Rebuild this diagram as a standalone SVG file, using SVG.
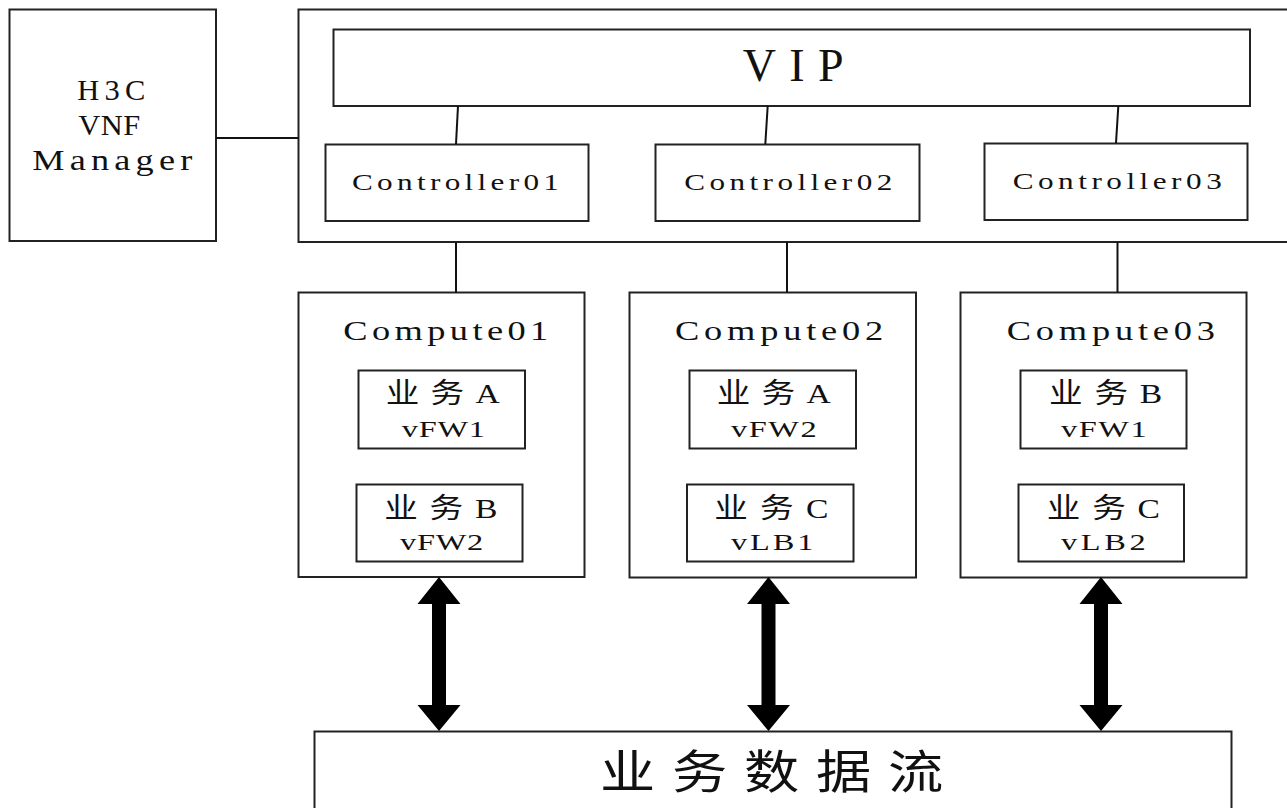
<svg xmlns="http://www.w3.org/2000/svg" xmlns:xlink="http://www.w3.org/1999/xlink" width="1287" height="808" viewBox="0 0 1287 808">
<style>
.box{fill:#fff;stroke:#222;stroke-width:2}
.ln{stroke:#111;stroke-width:2;fill:none}
.t{font-family:"Liberation Serif","Noto Sans CJK SC",serif;fill:#111}
.cjk{font-family:"Liberation Serif","Noto Sans CJK SC",sans-serif;fill:#111}
.arr{fill:#000;stroke:none}
</style>
<defs>
<path id="dblarrow" d="M0,0 L21.5,27 L7,27 L7,128 L21.5,128 L0,154 L-21.5,128 L-7,128 L-7,27 L-21.5,27 Z"/>
</defs>
<rect width="1287" height="808" fill="#fff"/>

<g id="manager">
<rect class="box" x="9.5" y="9.5" width="206.5" height="231.5"/>
<text class="t" font-size="29" transform="translate(77.3,100) scale(1.05,1)" textLength="64.8" lengthAdjust="spacing">H3C</text>
<text class="t" font-size="29" transform="translate(78.3,135) scale(1.05,1)" textLength="59" lengthAdjust="spacing">VNF</text>
<text class="t" font-size="29" transform="translate(32.3,170) scale(1.25,1)" textLength="128" lengthAdjust="spacing">Manager</text>
</g>

<g id="controller-cluster">
<rect class="box" x="298.5" y="9.5" width="1000" height="232.5"/>
</g>

<g id="vip">
<rect class="box" x="333.5" y="29.5" width="916.5" height="76.5"/>
<text class="t" font-size="46" x="742.7" y="81" textLength="101" lengthAdjust="spacing">VIP</text>
</g>

<g id="controller01">
<rect class="box" x="325.5" y="144.5" width="263" height="76.5"/>
<text class="t" font-size="24" transform="translate(352,190) scale(1.3,1)" textLength="159.2" lengthAdjust="spacing">Controller01</text>
</g>
<g id="controller02">
<rect class="box" x="655.5" y="144.5" width="264" height="76.5"/>
<text class="t" font-size="24" transform="translate(684.3,190) scale(1.3,1)" textLength="160" lengthAdjust="spacing">Controller02</text>
</g>
<g id="controller03">
<rect class="box" x="984.5" y="143.5" width="263" height="76.5"/>
<text class="t" font-size="24" transform="translate(1012.7,189) scale(1.3,1)" textLength="160.8" lengthAdjust="spacing">Controller03</text>
</g>

<g id="compute01">
<rect class="box" x="298.5" y="292.5" width="286" height="284.5"/>
<text class="t" font-size="28" transform="translate(343.3,339.5) scale(1.3,1)" textLength="157.7" lengthAdjust="spacing">Compute01</text>
<rect class="box" x="358.5" y="370.5" width="166.5" height="78"/>
<text class="cjk" font-size="28" transform="translate(385.7,403) scale(1.2,1)" textLength="95" lengthAdjust="spacing">业务A</text>
<text class="t" font-size="24" transform="translate(401.7,436.7) scale(1.35,1)" textLength="61.7" lengthAdjust="spacing">vFW1</text>
<rect class="box" x="356.5" y="484.5" width="166" height="77"/>
<text class="cjk" font-size="28" transform="translate(384.3,517.5) scale(1.2,1)" textLength="94.2" lengthAdjust="spacing">业务B</text>
<text class="t" font-size="24" transform="translate(400,550) scale(1.35,1)" textLength="61.7" lengthAdjust="spacing">vFW2</text>
</g>

<g id="compute02">
<rect class="box" x="629.5" y="292.5" width="286.5" height="285"/>
<text class="t" font-size="28" transform="translate(675,339.5) scale(1.3,1)" textLength="160.2" lengthAdjust="spacing">Compute02</text>
<rect class="box" x="689.5" y="370.5" width="166.5" height="78"/>
<text class="cjk" font-size="28" transform="translate(716.7,403) scale(1.2,1)" textLength="95" lengthAdjust="spacing">业务A</text>
<text class="t" font-size="24" transform="translate(731,436.7) scale(1.35,1)" textLength="63.5" lengthAdjust="spacing">vFW2</text>
<rect class="box" x="687" y="484.5" width="166.5" height="77"/>
<text class="cjk" font-size="28" transform="translate(714.3,517.5) scale(1.2,1)" textLength="95" lengthAdjust="spacing">业务C</text>
<text class="t" font-size="24" transform="translate(731,550) scale(1.35,1)" textLength="61" lengthAdjust="spacing">vLB1</text>
</g>

<g id="compute03">
<rect class="box" x="960.5" y="292.5" width="286" height="285"/>
<text class="t" font-size="28" transform="translate(1006.7,339.5) scale(1.3,1)" textLength="160.2" lengthAdjust="spacing">Compute03</text>
<rect class="box" x="1020.5" y="370.5" width="166" height="78"/>
<text class="cjk" font-size="28" transform="translate(1049,403) scale(1.2,1)" textLength="94.4" lengthAdjust="spacing">业务B</text>
<text class="t" font-size="24" transform="translate(1061,436.7) scale(1.35,1)" textLength="63.5" lengthAdjust="spacing">vFW1</text>
<rect class="box" x="1018.5" y="484.5" width="165.5" height="77"/>
<text class="cjk" font-size="28" transform="translate(1046.7,517.5) scale(1.2,1)" textLength="94.4" lengthAdjust="spacing">业务C</text>
<text class="t" font-size="24" transform="translate(1061,550) scale(1.35,1)" textLength="62.7" lengthAdjust="spacing">vLB2</text>
</g>

<g id="dataflow">
<rect class="box" x="314.5" y="731.5" width="917" height="100"/>
<text class="cjk" font-size="46" transform="translate(600,788) scale(1.2,1)" textLength="286" lengthAdjust="spacing">业务数据流</text>
</g>

<g id="connectors">
<line class="ln" x1="216" y1="138" x2="298.5" y2="138"/>
<line class="ln" x1="458" y1="106" x2="456" y2="144"/>
<line class="ln" x1="767.7" y1="106" x2="765.3" y2="144"/>
<line class="ln" x1="1118.3" y1="106" x2="1116" y2="143"/>
<line class="ln" x1="456" y1="242" x2="456" y2="292.5"/>
<line class="ln" x1="787" y1="242" x2="787" y2="292.5"/>
<line class="ln" x1="1117.5" y1="242" x2="1117.5" y2="292.5"/>
<use class="arr" xlink:href="#dblarrow" href="#dblarrow" transform="translate(439,577)"/>
<use class="arr" xlink:href="#dblarrow" href="#dblarrow" transform="translate(768.5,577)"/>
<use class="arr" xlink:href="#dblarrow" href="#dblarrow" transform="translate(1101,577)"/>
</g>
</svg>
